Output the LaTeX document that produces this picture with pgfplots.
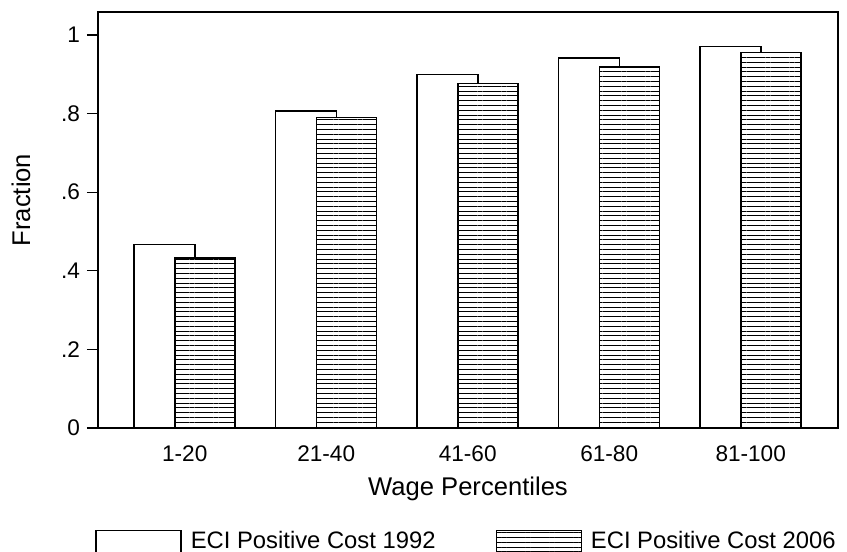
\documentclass[border=0pt]{standalone}
\usepackage{pgfplots}
\pgfplotsset{compat=1.18}
\usepackage{fontspec}
\setmainfont{Liberation Sans}
\usetikzlibrary{patterns.meta,calc}

\pgfplotstableread{
x y
0 0.467
1 0.807
2 0.900
3 0.941
4 0.970
}\dataA
\pgfplotstableread{
x y
0 0.433
1 0.790
2 0.877
3 0.919
4 0.955
}\dataB

\begin{document}
\begin{tikzpicture}
\begin{axis}[
  name=ax,
  scale only axis,
  width=370pt, height=208pt,
  xmin=-0.613, xmax=4.617,
  ymin=0, ymax=1.0585,
  axis line style={line width=0.8pt},
  xtick={0,1,2,3,4},
  xticklabels={1-20,21-40,41-60,61-80,81-100},
  x tick style={draw=none},
  ytick={0,0.2,0.4,0.6,0.8,1},
  yticklabels={0,.2,.4,.6,.8,1},
  ytick pos=left,
  xtick pos=bottom,
  tick align=outside,
  major tick length=5.5pt,
  y tick style={line width=0.6pt, black},
  tick label style={font=\fontsize{11.3}{13}\selectfont},
  xlabel={Wage Percentiles},
  ylabel={Fraction},
  every axis x label/.style={at={(axis description cs:0.5,-0.146)}, anchor=center, font=\fontsize{12.8}{14}\selectfont},
  every axis y label/.style={at={(axis description cs:-0.104,0.548)}, anchor=center, rotate=90, font=\fontsize{12.8}{14}\selectfont},
  legend style={at={(axis description cs:-0.004,-0.238)}, anchor=north west, draw=none, inner sep=0pt,
    font=\fontsize{11.9}{13}\selectfont,
    /tikz/every odd column/.append style={column sep=2.5pt},
    /tikz/every even column/.append style={column sep=28pt}},
  legend columns=2,
  legend cell align=left,
]
\addplot[ybar, bar width=30.5pt, bar shift=-10.1pt, draw=black, line width=0.7pt, fill=white,
  legend image code/.code={\draw[draw=black, line width=0.7pt, fill=white] (0pt,-5.5pt) rectangle (42.5pt,5.5pt);}]
  table[x=x,y=y]{\dataA};
\addlegendentry{ECI Positive Cost 1992}
\addplot[ybar, bar width=30pt, bar shift=10.2pt, draw=black, line width=0.7pt, fill=white,
  postaction={pattern={Lines[angle=0, distance=2.4pt, line width=0.5pt]}},
  legend image code/.code={\draw[draw=black, line width=0.7pt, fill=white, postaction={pattern={Lines[angle=0, distance=2.4pt, line width=0.5pt]}}] (0pt,-5.5pt) rectangle (42.5pt,5.5pt);}]
  table[x=x,y=y]{\dataB};
\addlegendentry{ECI Positive Cost 2006}
\end{axis}
\pgfresetboundingbox
\path ($(ax.south west)+(-49pt,-62pt)$) rectangle ($(ax.north east)+(4.5pt,6pt)$);
\end{tikzpicture}
\end{document}
